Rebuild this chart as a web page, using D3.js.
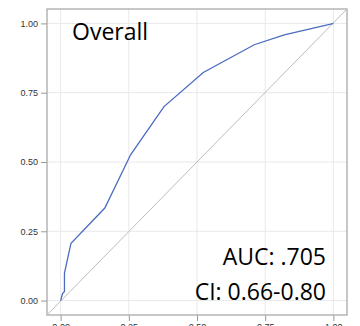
<!DOCTYPE html>
<html>
<head>
<meta charset="utf-8">
<script src="https://cdn.jsdelivr.net/npm/d3@7"></script>
<style>
  body { margin: 0; background: #fff; }
  svg { display: block; }
</style>
</head>
<body>
<div id="roc"></div>
<script>
// ROC points
const fpr = [0, 0.007, 0.014, 0.014, 0.038, 0.162, 0.257, 0.379, 0.523, 0.71, 0.82, 0.99, 1];
const tpr = [0, 0.025, 0.033, 0.099, 0.207, 0.334, 0.527, 0.700, 0.823, 0.923, 0.959, 0.997, 1];
const tickValues = [0, 0.25, 0.5, 0.75, 1];
const tickLabels = ['0.00', '0.25', '0.50', '0.75', '1.00'];
const title = 'Overall';
const aucText = 'AUC: .705';
const ciText = 'CI: 0.66-0.80';

const width = 360;
const height = 326;
const margin = { top: 9, right: 13, bottom: 11, left: 47 };

const svg = d3.select('#roc')
  .append('svg')
  .attr('width', width)
  .attr('height', height);

const xScale = d3.scaleLinear()
  .domain([-0.05, 1.05])
  .range([margin.left, width - margin.right]);

const yScale = d3.scaleLinear()
  .domain([-0.052, 1.052])
  .range([height - margin.bottom, margin.top]);

// grid
svg.append('g')
  .selectAll('line.gx')
  .data(tickValues)
  .join('line')
  .attr('x1', d => xScale(d)).attr('x2', d => xScale(d))
  .attr('y1', margin.top).attr('y2', height - margin.bottom)
  .attr('stroke', '#e9e9e9');

svg.append('g')
  .selectAll('line.gy')
  .data(tickValues)
  .join('line')
  .attr('x1', margin.left).attr('x2', width - margin.right)
  .attr('y1', d => yScale(d)).attr('y2', d => yScale(d))
  .attr('stroke', '#e9e9e9');

// axes
const fmt = (d, i) => tickLabels[i];

const yAxis = svg.append('g')
  .attr('transform', `translate(${margin.left},0)`)
  .call(d3.axisLeft(yScale).tickValues(tickValues).tickFormat(fmt).tickSize(6).tickPadding(3));

const xAxis = svg.append('g')
  .attr('transform', `translate(0,${height - margin.bottom})`)
  .call(d3.axisBottom(xScale).tickValues(tickValues).tickFormat(fmt).tickSize(6).tickPadding(3));

[xAxis, yAxis].forEach(a => {
  a.select('.domain').remove();
  a.selectAll('.tick line').attr('stroke', '#999');
  a.selectAll('.tick text')
    .attr('fill', '#333')
    .style('font-family', '"Liberation Sans", Arial, sans-serif')
    .style('font-size', '9px');
});

// frame
svg.append('rect')
  .attr('x', margin.left)
  .attr('y', margin.top)
  .attr('width', width - margin.left - margin.right)
  .attr('height', height - margin.top - margin.bottom)
  .attr('fill', 'none')
  .attr('stroke', '#aaa')
  .attr('stroke-width', 1.3);

// reference diagonal
svg.append('line')
  .attr('x1', xScale(-0.05)).attr('y1', yScale(-0.052))
  .attr('x2', xScale(1.05)).attr('y2', yScale(1.052))
  .attr('stroke', '#bdbdbd')
  .attr('stroke-width', 1);

// ROC curve
const points = fpr.map((f, i) => [f, tpr[i]]);
const line = d3.line()
  .x(d => xScale(d[0]))
  .y(d => yScale(d[1]));

svg.append('path')
  .datum(points)
  .attr('d', line)
  .attr('fill', 'none')
  .attr('stroke', '#4a6cc0')
  .attr('stroke-width', 1.3);

// labels
const bigFont = '"Open Sans", "Noto Sans", sans-serif';

svg.append('text')
  .attr('x', 72)
  .attr('y', 40)
  .style('font-family', bigFont)
  .style('font-size', '23px')
  .attr('fill', '#000')
  .text(title);

svg.append('text')
  .attr('x', 326)
  .attr('y', 265)
  .attr('text-anchor', 'end')
  .style('font-family', bigFont)
  .style('font-size', '23px')
  .attr('fill', '#000')
  .text(aucText);

svg.append('text')
  .attr('x', 326)
  .attr('y', 300)
  .attr('text-anchor', 'end')
  .style('font-family', bigFont)
  .style('font-size', '23px')
  .attr('fill', '#000')
  .text(ciText);
</script>
</body>
</html>
